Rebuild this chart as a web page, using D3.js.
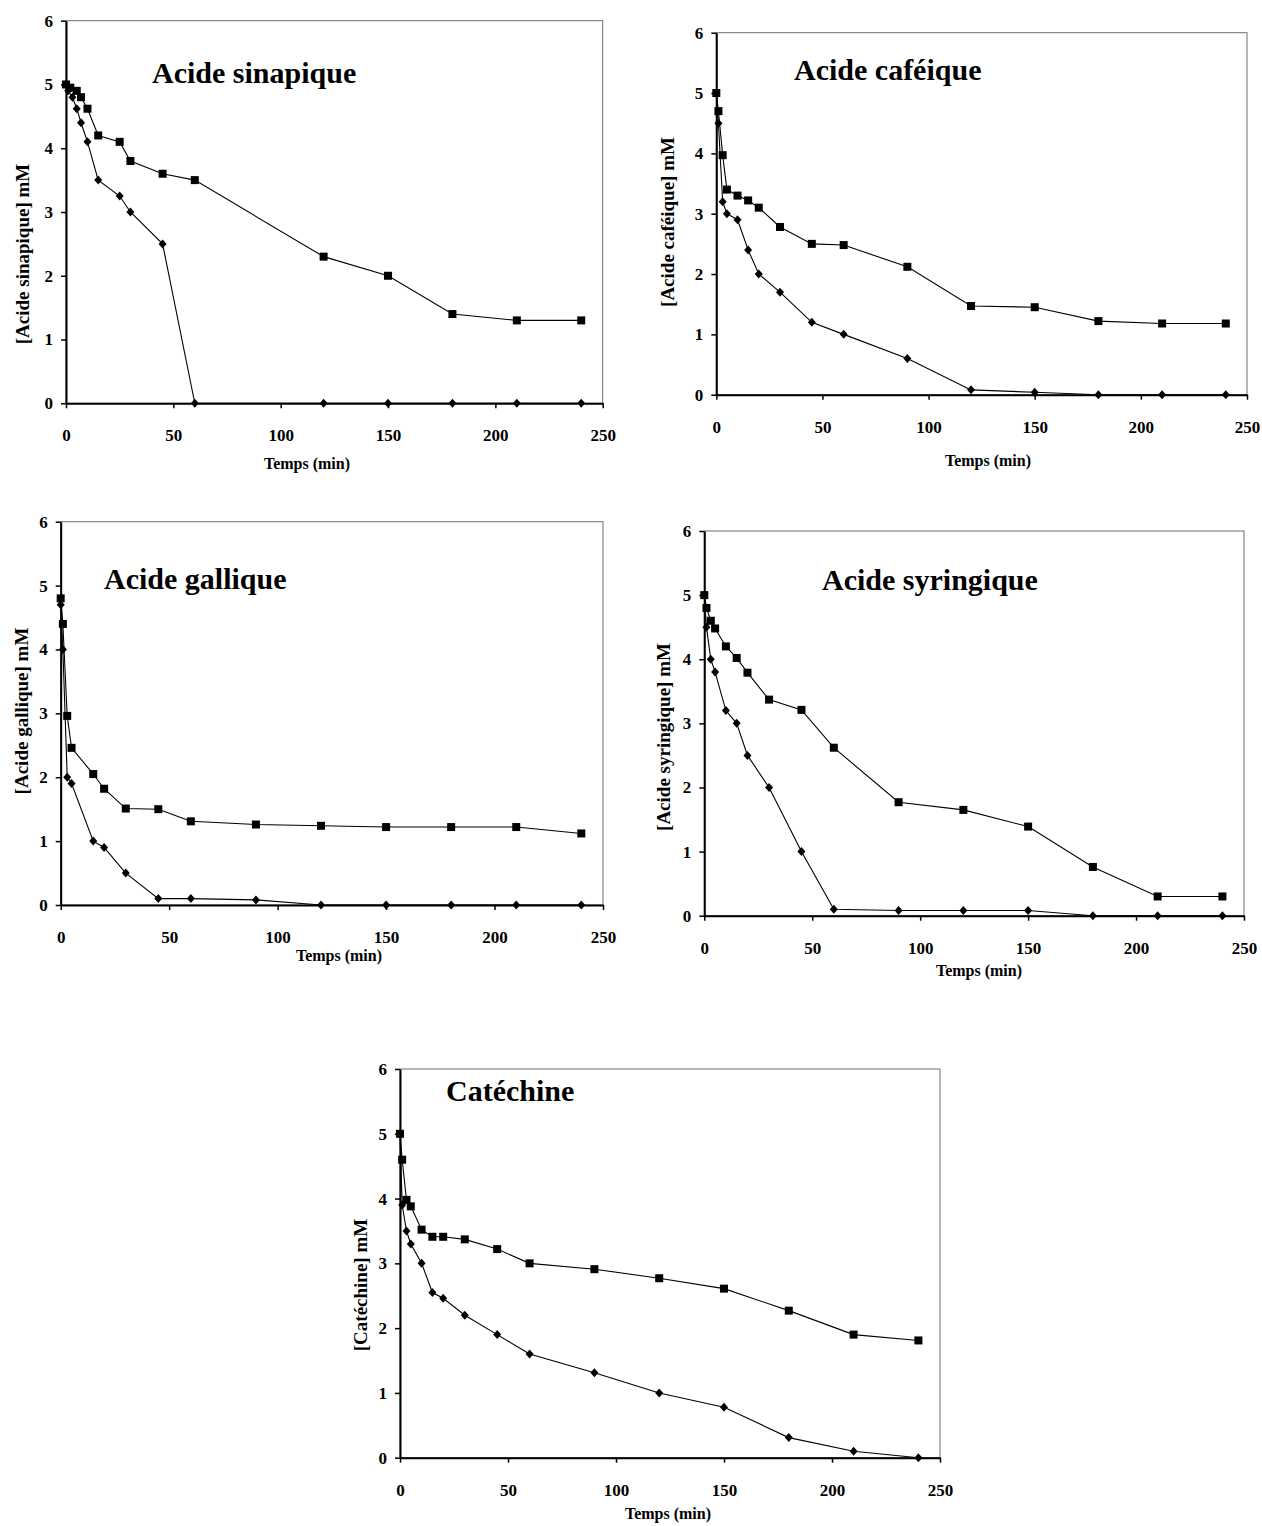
<!DOCTYPE html>
<html>
<head>
<meta charset="utf-8">
<script src="https://cdn.jsdelivr.net/npm/d3@7"></script>
<style>
  html, body { margin: 0; padding: 0; background: #fff; }
  svg text { font-family: "Liberation Serif", "Times New Roman", serif; font-weight: bold; fill: #000; }
</style>
</head>
<body>
<svg id="chart" width="1262" height="1526"></svg>
<script>
// ---------- DATA ----------
const xTicks = [0, 50, 100, 150, 200, 250];
const yTicks = [0, 1, 2, 3, 4, 5, 6];
const xAxisTitle = "Temps (min)";

// Acide sinapique
const sinapiqueSqTime = [0, 2, 5, 7, 10, 15, 25, 30, 45, 60, 120, 150, 180, 210, 240];
const sinapiqueSqVal  = [5.0, 4.95, 4.9, 4.8, 4.62, 4.2, 4.1, 3.8, 3.6, 3.5, 2.3, 2.0, 1.4, 1.3, 1.3];
const sinapiqueDiTime = [0, 1, 3, 5, 7, 10, 15, 25, 30, 45, 60, 120, 150, 180, 210, 240];
const sinapiqueDiVal  = [5.0, 4.9, 4.8, 4.62, 4.4, 4.1, 3.5, 3.25, 3.0, 2.5, 0, 0, 0, 0, 0, 0];

// Acide caféique
const cafeiqueTime  = [0, 1, 3, 5, 10, 15, 20, 30, 45, 60, 90, 120, 150, 180, 210, 240];
const cafeiqueSqVal = [5.0, 4.7, 3.97, 3.4, 3.3, 3.22, 3.1, 2.78, 2.5, 2.48, 2.12, 1.47, 1.45, 1.22, 1.18, 1.18];
const cafeiqueDiVal = [5.0, 4.5, 3.2, 3.0, 2.9, 2.4, 2.0, 1.7, 1.2, 1.0, 0.6, 0.08, 0.04, 0, 0, 0];

// Acide gallique
const galliqueTime  = [0, 1, 3, 5, 15, 20, 30, 45, 60, 90, 120, 150, 180, 210, 240];
const galliqueSqVal = [4.8, 4.4, 2.96, 2.46, 2.05, 1.82, 1.51, 1.5, 1.31, 1.26, 1.24, 1.22, 1.22, 1.22, 1.12];
const galliqueDiVal = [4.7, 4.0, 2.0, 1.9, 1.0, 0.9, 0.5, 0.1, 0.1, 0.08, 0, 0, 0, 0, 0];

// Acide syringique
const syringiqueTime  = [0, 1, 3, 5, 10, 15, 20, 30, 45, 60, 90, 120, 150, 180, 210, 240];
const syringiqueSqVal = [5.0, 4.8, 4.6, 4.48, 4.2, 4.02, 3.79, 3.37, 3.21, 2.62, 1.77, 1.65, 1.39, 0.76, 0.3, 0.3];
const syringiqueDiVal = [5.0, 4.5, 4.0, 3.8, 3.2, 3.0, 2.5, 2.0, 1.0, 0.1, 0.08, 0.08, 0.08, 0, 0, 0];

// Catéchine
const catechineTime  = [0, 1, 3, 5, 10, 15, 20, 30, 45, 60, 90, 120, 150, 180, 210, 240];
const catechineSqVal = [5.0, 4.6, 3.98, 3.88, 3.52, 3.41, 3.41, 3.37, 3.22, 3.0, 2.91, 2.77, 2.61, 2.27, 1.9, 1.81];
const catechineDiVal = [5.0, 3.9, 3.5, 3.3, 3.0, 2.55, 2.46, 2.2, 1.9, 1.6, 1.31, 1.0, 0.78, 0.31, 0.1, 0];

const panelTitles  = ["Acide sinapique", "Acide caféique", "Acide gallique", "Acide syringique", "Catéchine"];
const panelYTitles = ["[Acide sinapique] mM", "[Acide caféique] mM", "[Acide gallique] mM", "[Acide syringique] mM", "[Catéchine] mM"];

// ---------- LAYOUT ----------
const layouts = [
  { l: 66,    t: 20.7,  r: 602.7, b: 403.3, tx: 152, ty: 83,    yx: 22,  yy: 254,  xx: 307, xy: 469 },
  { l: 716.3, t: 32.7,  r: 1247,  b: 394.7, tx: 794, ty: 79.5,  yx: 667, yy: 222,  xx: 988, xy: 466 },
  { l: 60.7,  t: 521.7, r: 603,   b: 905,   tx: 104, ty: 589,   yx: 21,  yy: 711,  xx: 339, xy: 961 },
  { l: 704.3, t: 531,   r: 1244,  b: 915.7, tx: 822, ty: 590,   yx: 663, yy: 737,  xx: 979, xy: 976 },
  { l: 400,   t: 1069,  r: 940,   b: 1457.7,tx: 446, ty: 1100.5,yx: 360, yy: 1285, xx: 668, xy: 1519 }
];

const panelsData = [
  { sq: sinapiqueSqTime.map((t, i) => [t, sinapiqueSqVal[i]]), di: sinapiqueDiTime.map((t, i) => [t, sinapiqueDiVal[i]]) },
  { sq: cafeiqueTime.map((t, i) => [t, cafeiqueSqVal[i]]),     di: cafeiqueTime.map((t, i) => [t, cafeiqueDiVal[i]]) },
  { sq: galliqueTime.map((t, i) => [t, galliqueSqVal[i]]),     di: galliqueTime.map((t, i) => [t, galliqueDiVal[i]]) },
  { sq: syringiqueTime.map((t, i) => [t, syringiqueSqVal[i]]), di: syringiqueTime.map((t, i) => [t, syringiqueDiVal[i]]) },
  { sq: catechineTime.map((t, i) => [t, catechineSqVal[i]]),   di: catechineTime.map((t, i) => [t, catechineDiVal[i]]) }
];

const svg = d3.select("#chart");
svg.append("rect").attr("width", 1262).attr("height", 1526).attr("fill", "#fff");

const diamondPath = "M0,-4.5L4,0L0,4.5L-4,0Z";
const fmt = d3.format("d");

layouts.forEach((L, pi) => {
  const x = d3.scaleLinear().domain([0, 250]).range([L.l, L.r]);
  const y = d3.scaleLinear().domain([0, 6]).range([L.b, L.t]);
  const g = svg.append("g");

  // frame (top/right)
  g.append("rect")
    .attr("x", L.l).attr("y", L.t)
    .attr("width", L.r - L.l).attr("height", L.b - L.t)
    .attr("fill", "none").attr("stroke", "#6e6e6e").attr("stroke-width", 1);

  // axes
  const xAxis = g.append("g").attr("transform", `translate(0,${L.b})`)
    .call(d3.axisBottom(x).tickValues(xTicks).tickFormat(fmt).tickSize(5).tickPadding(21).tickSizeOuter(0));
  const yAxis = g.append("g").attr("transform", `translate(${L.l},0)`)
    .call(d3.axisLeft(y).tickValues(yTicks).tickFormat(fmt).tickSize(5).tickPadding(8).tickSizeOuter(0));
  [xAxis, yAxis].forEach(a => {
    a.select(".domain").attr("stroke", "#000").attr("stroke-width", 2);
    a.selectAll(".tick line").attr("stroke", "#000").attr("stroke-width", 1.5);
    a.selectAll("text").style("font-size", "17px")
      .style("font-family", "'Liberation Serif','Times New Roman',serif")
      .style("font-weight", "bold").attr("fill", "#000");
  });

  const line = d3.line().x(d => x(d[0])).y(d => y(d[1]));
  const D = panelsData[pi];

  g.append("path").datum(D.di).attr("d", line)
    .attr("fill", "none").attr("stroke", "#000").attr("stroke-width", 1.1);
  g.append("path").datum(D.sq).attr("d", line)
    .attr("fill", "none").attr("stroke", "#000").attr("stroke-width", 1.1);

  g.selectAll(".di").data(D.di).enter().append("path")
    .attr("transform", d => `translate(${x(d[0])},${y(d[1])})`)
    .attr("d", diamondPath).attr("fill", "#000");
  g.selectAll(".sq").data(D.sq).enter().append("rect")
    .attr("x", d => x(d[0]) - 4).attr("y", d => y(d[1]) - 4)
    .attr("width", 8).attr("height", 8).attr("fill", "#000");

  // titles
  g.append("text").attr("x", L.tx).attr("y", L.ty)
    .style("font-size", "30px").text(panelTitles[pi]);
  g.append("text").attr("x", L.xx).attr("y", L.xy)
    .attr("text-anchor", "middle").style("font-size", "16px").text(xAxisTitle);
  g.append("text")
    .attr("transform", `translate(${L.yx},${L.yy}) rotate(-90)`)
    .attr("text-anchor", "middle").attr("dy", "0.35em")
    .style("font-size", "19px").text(panelYTitles[pi]);
});
</script>
</body>
</html>
